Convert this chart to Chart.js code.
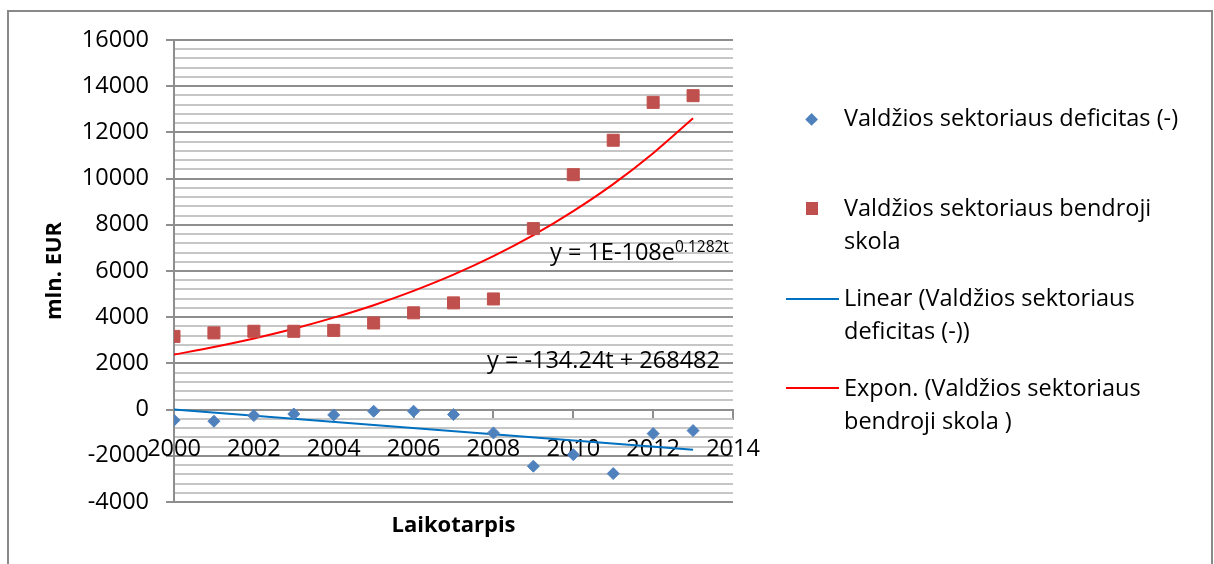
<!DOCTYPE html>
<html>
<head>
<meta charset="utf-8">
<script src="https://cdn.jsdelivr.net/npm/chart.js@4.4.1/dist/chart.umd.min.js"></script>
<style>
  body { margin: 0; background: #fff; overflow: hidden; font-family: "Open Sans", sans-serif; color: #000; }
  #wrap { position: relative; width: 1214px; height: 564px; overflow: hidden; }
  #frame { position: absolute; left: 7px; top: 10px; width: 1206px; height: 600px; border: 2px solid #898989; box-sizing: border-box; }
  #chart { position: absolute; left: 0; top: 0; }
  .txt { position: absolute; font-size: 23.5px; line-height: 33px; white-space: nowrap; }
  .sup { position: relative; top: -8px; font-size: 15.5px; }
  .mark { position: absolute; }
</style>
</head>
<body>
<div id="wrap">
  <div id="frame"></div>
  <canvas id="chart" width="1214" height="564"></canvas>

  <!-- trendline equations -->
  <div class="txt" style="left:550px; top:235px;">y = 1E-108e<span class="sup">0.1282t</span></div>
  <div class="txt" style="left:487px; top:343px;">y = -134.24t + 268482</div>

  <!-- legend -->
  <div class="mark" style="left:807.4px; top:114.7px; width:9.2px; height:9.2px; background:#4F81BD; transform:rotate(45deg);"></div>
  <div class="txt" style="left:844px; top:101px;">Valdžios sektoriaus deficitas (-)</div>

  <div class="mark" style="left:805.7px; top:202px; width:12.7px; height:12.7px; background:#C0504D;"></div>
  <div class="txt" style="left:844px; top:191px;">Valdžios sektoriaus bendroji<br>skola</div>

  <div class="mark" style="left:786px; top:297.5px; width:53px; height:2px; background:#0070C0;"></div>
  <div class="txt" style="left:844px; top:280.5px;">Linear (Valdžios sektoriaus<br>deficitas (-))</div>

  <div class="mark" style="left:786px; top:387px; width:53px; height:2px; background:#FF0000;"></div>
  <div class="txt" style="left:844px; top:370.5px;">Expon. (Valdžios sektoriaus<br>bendroji skola )</div>
</div>

<script>
// Data (mln. EUR)
const years = [2000, 2001, 2002, 2003, 2004, 2005, 2006, 2007, 2008, 2009, 2010, 2011, 2012, 2013];
const deficit = [-460, -505, -260, -190, -230, -70, -70, -215, -1010, -2450, -1950, -2770, -1040, -910];
const debt = [3170, 3320, 3390, 3390, 3430, 3750, 4190, 4620, 4790, 7835, 10170, 11660, 13300, 13590];

// Trendlines as drawn in the reference
const linTrendYears = [2000, 2013];
const linTrend = [0, -1740];
const expTrend = [2380, 2710, 3080, 3500, 3980, 4520, 5140, 5840, 6640, 7550, 8590, 9760, 11100, 12610];

// Tick labels
const xTicks = [2000, 2002, 2004, 2006, 2008, 2010, 2012, 2014];
const yTicks = [-4000, -2000, 0, 2000, 4000, 6000, 8000, 10000, 12000, 14000, 16000];

const font = "'Open Sans', sans-serif";
const majorGrid = '#8e8e8e';
const minorGrid = '#c6c6c6';

const toPoints = (xs, ys) => xs.map((x, i) => ({ x: x, y: ys[i] }));

const ctx = document.getElementById('chart');

new Chart(ctx, {
  type: 'scatter',
  data: {
    datasets: [
      {
        label: 'Valdžios sektoriaus deficitas (-)',
        data: toPoints(years, deficit),
        pointStyle: 'rectRot',
        pointRadius: 6,
        backgroundColor: '#4F81BD',
        borderColor: '#4F81BD',
        borderWidth: 1,
        order: 0
      },
      {
        label: 'Valdžios sektoriaus bendroji skola',
        data: toPoints(years, debt),
        pointStyle: 'rect',
        pointRadius: 8.5,
        backgroundColor: '#C0504D',
        borderColor: '#C0504D',
        borderWidth: 1,
        order: 0
      },
      {
        label: 'Linear (Valdžios sektoriaus deficitas (-))',
        data: toPoints(linTrendYears, linTrend),
        showLine: true,
        pointRadius: 0,
        borderColor: '#0070C0',
        borderWidth: 2,
        order: 1
      },
      {
        label: 'Expon. (Valdžios sektoriaus bendroji skola )',
        data: toPoints(years, expTrend),
        showLine: true,
        cubicInterpolationMode: 'monotone',
        pointRadius: 0,
        borderColor: '#FF0000',
        borderWidth: 2,
        order: 1
      }
    ]
  },
  options: {
    responsive: false,
    animation: false,
    layout: { padding: { left: 0, top: 40, right: 481, bottom: 0 } },
    plugins: {
      legend: { display: false },
      tooltip: { enabled: false }
    },
    scales: {
      x: {
        type: 'linear',
        min: 2000,
        max: 2014,
        position: { y: 0 },
        border: { display: true, color: majorGrid, width: 2 },
        grid: { drawOnChartArea: false, drawTicks: true, tickLength: 9, color: majorGrid, lineWidth: 2 },
        ticks: {
          stepSize: 2,
          autoSkip: false,
          maxRotation: 0,
          padding: 17,
          color: '#000',
          font: { family: font, size: 23.5 },
          callback: v => xTicks.includes(v) ? String(v) : ''
        }
      },
      // empty axis at the bottom, only carries the "Laikotarpis" title
      x2: {
        type: 'linear',
        axis: 'x',
        position: 'bottom',
        min: 2000,
        max: 2014,
        grid: { display: false },
        border: { display: false },
        ticks: { display: false },
        title: {
          display: true,
          text: 'Laikotarpis',
          color: '#000',
          font: { family: font, size: 22, weight: 'bold' },
          padding: { top: 0, bottom: 25 }
        },
        afterFit: s => { s.height = 62; }
      },
      y: {
        min: -4000,
        max: 16000,
        position: 'left',
        afterFit: s => { s.width = 174; },
        border: { display: true, color: majorGrid, width: 2 },
        grid: {
          lineWidth: 2,
          tickLength: 8,
          color: c => (c.tick && yTicks.includes(c.tick.value)) ? majorGrid : minorGrid,
          tickColor: c => (c.tick && yTicks.includes(c.tick.value)) ? majorGrid : 'rgba(0,0,0,0)'
        },
        ticks: {
          stepSize: 400,
          autoSkip: false,
          padding: 17,
          color: '#000',
          font: { family: font, size: 23.5 },
          callback: v => yTicks.includes(v) ? String(v) : ''
        },
        title: {
          display: true,
          text: 'mln. EUR',
          color: '#000',
          font: { family: font, size: 22, weight: 'bold' },
          padding: { top: 42, bottom: 0 }
        }
      }
    }
  }
});
</script>
</body>
</html>
